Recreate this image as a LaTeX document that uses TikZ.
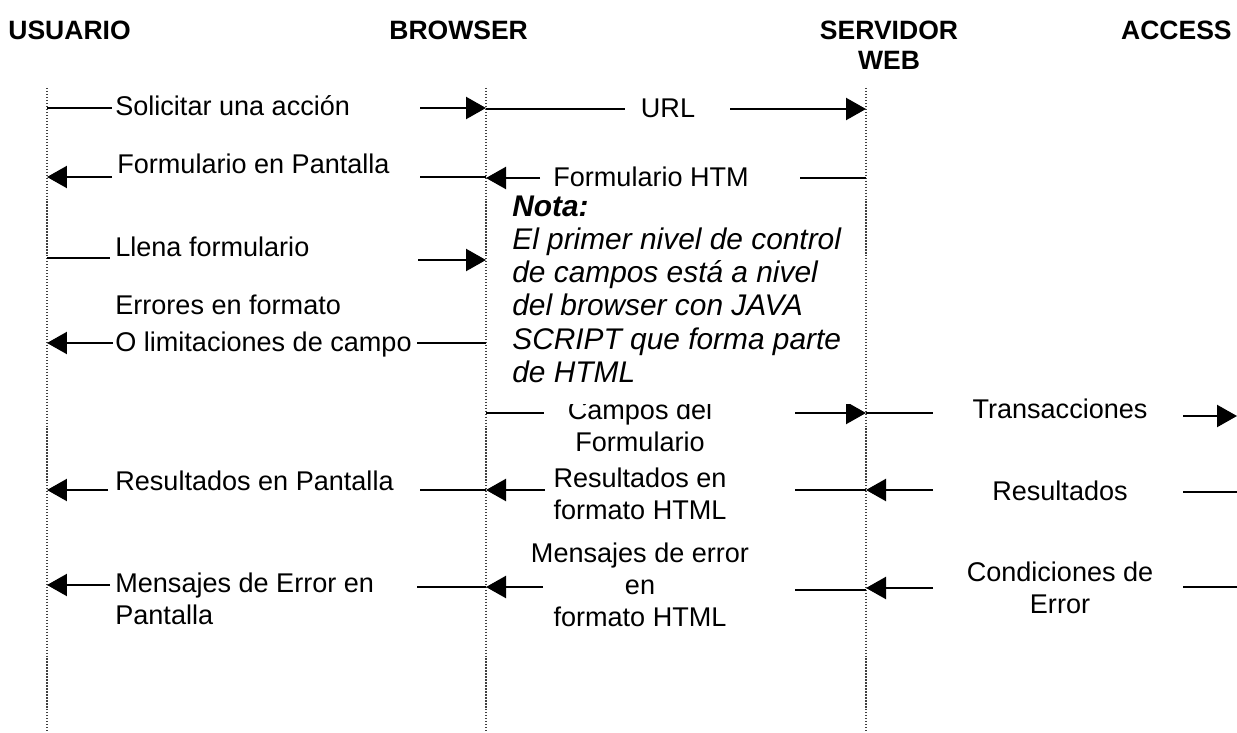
\documentclass[tikz,border=0pt]{standalone}
\usepackage{fontspec}
\setmainfont{Liberation Sans}
\usetikzlibrary{arrows.meta}

\tikzset{
  vida/.style={densely dotted, line width=0.7pt, black!75},
  linea/.style={line width=1.3pt},
  flecha/.style={line width=1.3pt, -{Triangle[length=0.4cm,width=0.44cm]}},
  txt/.style={inner sep=0pt, font=\fontsize{15.4}{18.2}\selectfont},
  titulo/.style={inner sep=0pt, font=\fontsize{15.1}{17}\selectfont\bfseries},
  nota/.style={inner sep=0pt, align=left, font=\fontsize{17}{18.8}\selectfont\itshape},
}

\begin{document}
\begin{tikzpicture}[x=0.02cm, y=-0.02cm]
    \useasboundingbox (0,0) rectangle (1237,733);

    % Cabeceras
    \node[titulo, anchor=base west] (usuario) at (8,40) {USUARIO};
    \node[titulo, anchor=base west] (browser) at (389,40) {BROWSER};
    \node[titulo, anchor=north, align=center] (servidor) at (889,21) {SERVIDOR\\WEB};
    \node[titulo, anchor=base east] (access) at (1232,40) {ACCESS};

    % Lineas de vida
    \coordinate (usr) at (47,88);
    \coordinate (brw) at (486,88);
    \coordinate (srv) at (866,88);
    \coordinate (acc) at (1237,88);
    \coordinate (usr-fin) at (47,733);
    \coordinate (brw-fin) at (486,733);
    \coordinate (srv-fin) at (866,733);
    \draw[vida] (usr) -- (usr-fin);
    \draw[vida] (brw) -- (brw-fin);
    \draw[vida] (srv) -- (srv-fin);

    % Solicitar una accion
    \node[txt, anchor=base west] (solicitar) at (115,116) {Solicitar una acción};
    \coordinate (solicitar-i) at (112,108);
    \coordinate (solicitar-d) at (420,108);
    \draw[linea] (usr |- solicitar-i) -- (solicitar-i);
    \draw[flecha] (solicitar-d) -- (brw |- solicitar-d);

    % URL
    \node[txt, anchor=base] (url) at (668,118) {URL};
    \coordinate (url-i) at (625,109);
    \coordinate (url-d) at (730,109);
    \draw[linea] (brw |- url-i) -- (url-i);
    \draw[flecha] (url-d) -- (srv |- url-d);

    % Formulario en pantalla
    \node[txt, anchor=base west] (pantalla) at (117,174) {Formulario en Pantalla};
    \coordinate (pantalla-i) at (112,177);
    \coordinate (pantalla-d) at (420,177);
    \draw[flecha] (pantalla-i) -- (usr |- pantalla-i);
    \draw[linea] (pantalla-d) -- (brw |- pantalla-d);

    % Formulario HTM
    \node[txt, anchor=base west] (htm) at (553,187) {Formulario HTM};
    \coordinate (htm-i) at (540,178);
    \coordinate (htm-d) at (800,178);
    \draw[flecha] (htm-i) -- (brw |- htm-i);
    \draw[linea] (htm-d) -- (srv |- htm-d);

    % Llena formulario
    \node[txt, anchor=base west] (llena) at (115,256) {Llena formulario};
    \coordinate (llena-i) at (110,258);
    \coordinate (llena-d) at (418,260);
    \draw[linea] (usr |- llena-i) -- (llena-i);
    \draw[flecha] (llena-d) -- (brw |- llena-d);

    % Errores de formato
    \node[txt, anchor=north west, align=left] (errores) at (115,295) {Errores en formato\\[0.1cm]O limitaciones de campo};
    \coordinate (errores-i) at (113,343);
    \coordinate (errores-d) at (417,343);
    \draw[flecha] (errores-i) -- (usr |- errores-i);
    \draw[linea] (errores-d) -- (brw |- errores-d);

    % Campos del formulario
    \node[txt, anchor=north, align=center] (campos) at (640,400) {Campos del\\Formulario};
    \coordinate (campos-i) at (544,413);
    \coordinate (campos-d) at (795,413);
    \draw[linea] (brw |- campos-i) -- (campos-i);
    \draw[flecha] (campos-d) -- (srv |- campos-d);

    % Nota (tapa parte de "Campos del")
    \coordinate (tapa-a) at (505,192);
    \coordinate (tapa-b) at (858,404);
    \fill[white] (tapa-a) rectangle (tapa-b);
    \node[nota, anchor=north west] (nota) at (512,196) {\textbf{Nota:}\\El primer nivel de control\\de campos está a nivel\\del browser con JAVA\\SCRIPT que forma parte\\de HTML};

    % Transacciones
    \node[txt, anchor=base] (trans) at (1060,418) {Transacciones};
    \coordinate (trans-i) at (933,413);
    \coordinate (trans-d) at (1183,416);
    \draw[linea] (srv |- trans-i) -- (trans-i);
    \draw[flecha] (trans-d) -- (acc |- trans-d);

    % Resultados en pantalla
    \node[txt, anchor=base west] (res-pant) at (115,490) {Resultados en Pantalla};
    \coordinate (res-pant-i) at (108,490);
    \coordinate (res-pant-d) at (420,490);
    \draw[flecha] (res-pant-i) -- (usr |- res-pant-i);
    \draw[linea] (res-pant-d) -- (brw |- res-pant-d);

    % Resultados en formato HTML
    \node[txt, anchor=north, align=center] (res-html) at (640,468) {Resultados en\\formato HTML};
    \coordinate (res-html-i) at (545,490);
    \coordinate (res-html-d) at (795,490);
    \draw[flecha] (res-html-i) -- (brw |- res-html-i);
    \draw[linea] (res-html-d) -- (srv |- res-html-d);

    % Resultados
    \node[txt, anchor=base] (res) at (1060,500) {Resultados};
    \coordinate (res-i) at (933,490);
    \coordinate (res-d) at (1183,492);
    \draw[flecha] (res-i) -- (srv |- res-i);
    \draw[linea] (res-d) -- (acc |- res-d);

    % Mensajes de error en pantalla
    \node[txt, anchor=north west, align=left] (men-pant) at (115,573) {Mensajes de Error en\\Pantalla};
    \coordinate (men-pant-i) at (110,585);
    \coordinate (men-pant-d) at (417,587);
    \draw[flecha] (men-pant-i) -- (usr |- men-pant-i);
    \draw[linea] (men-pant-d) -- (brw |- men-pant-d);

    % Mensajes de error en formato HTML
    \node[txt, anchor=north, align=center] (men-html) at (640,543) {Mensajes de error\\en\\formato HTML};
    \coordinate (men-html-i) at (543,587);
    \coordinate (men-html-d) at (795,590);
    \draw[flecha] (men-html-i) -- (brw |- men-html-i);
    \draw[linea] (men-html-d) -- (srv |- men-html-d);

    % Condiciones de error
    \node[txt, anchor=north, align=center] (cond) at (1060,562) {Condiciones de\\Error};
    \coordinate (cond-i) at (933,588);
    \coordinate (cond-d) at (1183,587);
    \draw[flecha] (cond-i) -- (srv |- cond-i);
    \draw[linea] (cond-d) -- (acc |- cond-d);

\end{tikzpicture}
\end{document}
